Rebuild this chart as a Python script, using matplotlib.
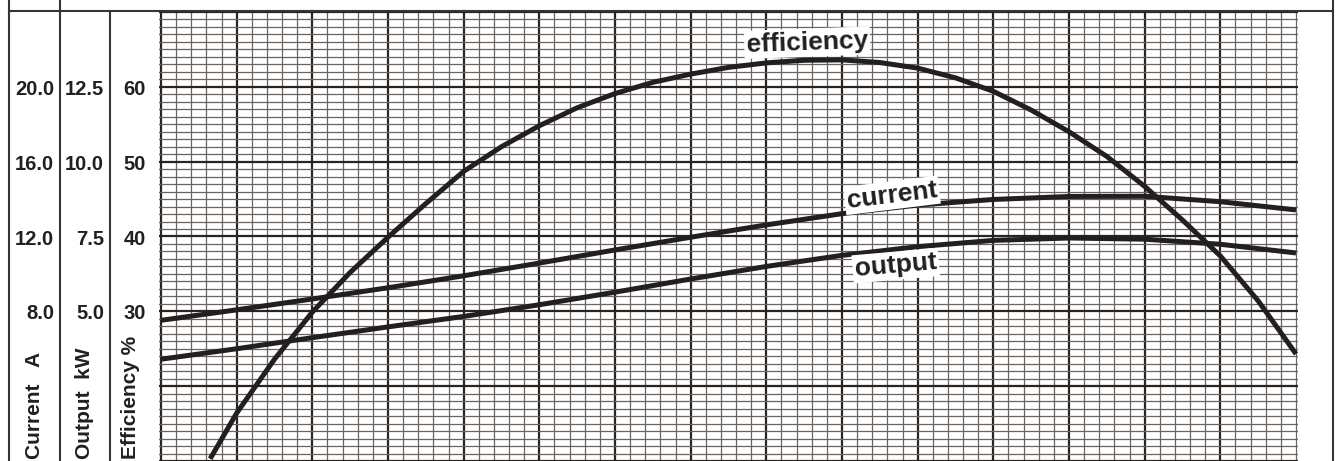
import matplotlib
matplotlib.use('Agg')
import matplotlib.pyplot as plt
import matplotlib.transforms as mtransforms
from matplotlib.lines import Line2D
import numpy as np

plt.rcParams['font.family'] = ['Liberation Sans', 'DejaVu Sans']
plt.rcParams['font.weight'] = 'bold'

# ---------------- data ----------------
load_x = [0, 1, 2, 3, 4, 5, 6, 7, 8, 9, 10, 11, 12, 13, 14, 15]
current_A = [7.52, 8.08, 8.66, 9.26, 9.90, 10.58, 11.28, 11.96, 12.62, 13.22,
             13.68, 13.98, 14.14, 14.15, 13.86, 13.42]
output_kW = [3.40, 3.75, 4.12, 4.48, 4.83, 5.22, 5.64, 6.08, 6.50, 6.87,
             7.16, 7.37, 7.45, 7.41, 7.24, 6.95]

eff_x = [0.65, 1.0, 1.5, 2.0, 2.5, 3.0, 3.5, 4.0, 4.5, 5.0, 5.5, 6.0, 6.5, 7.0,
         7.5, 8.0, 8.5, 9.0, 9.5, 10.0, 10.5, 11.0, 11.5, 12.0, 12.5, 13.0,
         13.5, 14.0, 14.5, 15.0]
eff_pct = [10.3, 16.4, 23.6, 29.9, 35.2, 39.9, 44.4, 48.7, 52.0, 54.8, 57.2,
           59.1, 60.6, 61.7, 62.6, 63.2, 63.55, 63.6, 63.25, 62.5, 61.2, 59.4,
           56.9, 54.0, 50.7, 46.7, 42.2, 37.4, 31.4, 24.3]

eff_ticks = [60, 50, 40, 30]
current_ticks = ['20.0', '16.0', '12.0', '8.0']
output_ticks = ['12.5', '10.0', '7.5', '5.0']

# scale relations (shared vertical grid)
def current_to_eff(a):
    return (np.asarray(a) + 4.0) / 0.4

def output_to_eff(p):
    return (np.asarray(p) + 2.5) / 0.25

# ---------------- figure ----------------
W, H = 1339, 461
fig = plt.figure(figsize=(W / 100, H / 100), dpi=100)

def fx(px):
    return px / W

def fy(py):
    return 1 - py / H

ink = '#231f20'
frame_c = '#3a3431'
major_c = '#2a2421'
minor_c = '#6a6460'

unit = (1296 - 161) / 15.0
pad = 0.02
left_px = 161 - pad * unit
right_px = 1296 + pad * unit
top_px = 10.5
ax = fig.add_axes([fx(left_px), 0, (right_px - left_px) / W, (H - top_px) / H])
ax.set_xlim(-pad, 15 + pad)
ax.set_ylim(70 - (H - 12) / 7.5, 70.2)

ax.set_xticks(np.arange(0, 15, 1))
ax.set_xticks(np.arange(0, 15.01, 0.2), minor=True)
ax.set_yticks(np.arange(10, 71, 10))
ax.set_yticks(np.arange(10, 71, 1), minor=True)
ax.grid(which='minor', color=minor_c, lw=0.9, zorder=0)
ax.grid(which='major', color=major_c, lw=1.6, zorder=1)
ax.tick_params(which='both', length=0, labelbottom=False, labelleft=False)
for s in ax.spines.values():
    s.set_visible(False)
ax.set_axisbelow(True)

# curves
line_kw = dict(color=ink, lw=3.6, zorder=3, solid_joinstyle='round',
               solid_capstyle='butt')
ax.plot(eff_x, eff_pct, **line_kw)
ax.plot(load_x, current_to_eff(current_A), **line_kw)
ax.plot(load_x, output_to_eff(output_kW), **line_kw)

# curve labels
lab_kw = dict(fontsize=19, fontweight='bold', color=ink, ha='center', va='center',
              rotation_mode='anchor', zorder=5,
              bbox=dict(facecolor='white', edgecolor='none', pad=1.5))
ax.text(8.54, 65.9, 'efficiency', rotation=2, **lab_kw)
ax.text(9.66, 45.5, 'current', rotation=7, **lab_kw)
ax.text(9.71, 36.1, 'output', rotation=5, **lab_kw)

# frame lines
def fline(x0, y0, x1, y1):
    fig.add_artist(Line2D([fx(x0), fx(x1)], [fy(y0), fy(y1)], color=frame_c,
                          lw=1.5, transform=fig.transFigure))

fline(9, 0, 9, H)
fline(60, 0, 60, H)
fline(110, 11.5, 110, H)
fline(9, 11.5, 1333, 11.5)
fline(1333, 0, 1333, H)

# scale numbers
trans = mtransforms.blended_transform_factory(fig.transFigure, ax.transData)
num_kw = dict(fontsize=14.5, fontweight='bold', color=ink, ha='right', va='center',
              transform=trans)
for e, c, o in zip(eff_ticks, current_ticks, output_ticks):
    fig.text(fx(54), e - 0.35, c, **num_kw)
    fig.text(fx(104), e - 0.35, o, **num_kw)
    fig.text(fx(146), e - 0.35, str(e), **num_kw)

# rotated scale titles
rot_kw = dict(rotation=90, ha='center', va='bottom', fontweight='bold', color=ink)
fig.text(fx(34), fy(459), 'Current   A', fontsize=15, **rot_kw)
fig.text(fx(85), fy(459), 'Output  kW', fontsize=15, **rot_kw)
fig.text(fx(131), fy(459), 'Efficiency %', fontsize=15, **rot_kw)

fig.savefig('out.png', dpi=100)
